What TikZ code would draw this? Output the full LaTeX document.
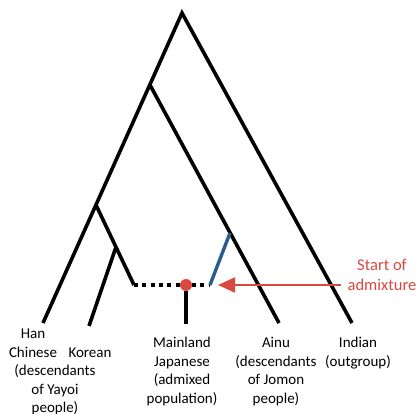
\documentclass[tikz,border=0pt]{standalone}
\usepackage{fontspec}
\setmainfont{Carlito}
\usetikzlibrary{positioning,arrows.meta}
\definecolor{admixred}{RGB}{218,72,66}
\definecolor{admixblue}{RGB}{42,92,140}
\tikzset{
  branch/.style   = {draw, line width=3.6pt, line join=miter, line cap=butt},
  gapline/.style  = {draw, line width=3.8pt, dash pattern=on 4pt off 4.3pt},
  admix/.style    = {draw=admixblue, line width=3.4pt},
  pointer/.style  = {draw=admixred, line width=2.2pt,
                     -{Triangle[length=17pt,width=15pt]}},
  mixdot/.style   = {circle, fill=admixred, minimum size=12pt, inner sep=0pt},
  taxon/.style    = {align=center, inner sep=0pt, anchor=north,
                     font=\fontsize{15}{18.5}\selectfont},
  note/.style     = {taxon, text=admixred, font=\fontsize{16.5}{20}\selectfont}
}

\begin{document}
\begin{tikzpicture}[x=1pt,y=-1pt]
  \useasboundingbox (0,0) rectangle (418,414);

  % splits and tips
  \coordinate (root)    at (182,13);
  \coordinate (n1)      at (150,85);
  \coordinate (n2)      at (96,205);
  \coordinate (n3)      at (116,247);
  \coordinate (han)     at (43,323);
  \coordinate (korean)  at (89,326);
  \coordinate (yayoi)   at (134,285);
  \coordinate (jomon)   at (210,285);
  \coordinate (ainumix) at (230,233);
  \coordinate (ainu)    at (279,323);
  \coordinate (indian)  at (352,323);
  \coordinate (japan)   at (186,324);
  \coordinate (tail)    at (341,285);

  \draw[branch] (han) -- (root) -- (indian);
  \draw[branch] (n1) -- (ainu);
  \draw[branch] (n2) -- (yayoi);
  \draw[branch] (n3) -- (korean);

  % admixture
  \draw[gapline] (yayoi) -- (jomon);
  \draw[admix] (jomon) -- (ainumix);
  \node[mixdot] (mix) at (186,285) {};
  \draw[branch] (mix) -- (japan);
  \draw[pointer, shorten >=8pt] (tail) -- (jomon);

  % labels
  \node[taxon] (hanlbl) at (55,329)
    {\makebox[84pt][l]{\makebox[40pt]{Han}}\\
     \makebox[84pt][l]{\makebox[40pt]{Chinese}}\\
     (descendants\\of Yayoi\\people)};
  \node[taxon] (korlbl) at (90,348) {Korean};
  \node[taxon] (japlbl) at (182,337) {Mainland\\Japanese\\(admixed\\population)};
  \node[taxon] (ainulbl) at (276,337) {Ainu\\(descendants\\of Jomon\\people)};
  \node[taxon] (indlbl) at (358,337) {Indian\\(outgroup)};
  \node[note] (startlbl) at (382,259) {Start of\\admixture};
\end{tikzpicture}
\end{document}
